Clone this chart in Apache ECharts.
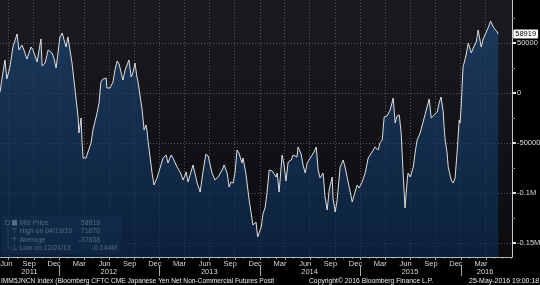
<!DOCTYPE html>
<html><head><meta charset="utf-8">
<script src="https://cdn.jsdelivr.net/npm/echarts@6/dist/echarts.min.js"></script>
<style>html,body{margin:0;padding:0;background:#000;}#c{width:540px;height:285px;}</style>
</head><body><div id="c"></div>
<script>
const dates = ['2011-06-01','2011-06-12','2011-06-19','2011-06-26','2011-07-07','2011-07-18','2011-08-02','2011-08-09','2011-08-20','2011-08-27','2011-09-07','2011-09-22','2011-09-29','2011-10-06','2011-10-14','2011-10-28','2011-11-01','2011-11-12','2011-11-23','2011-12-07','2011-12-14','2011-12-22','2011-12-29',
'2012-01-05','2012-01-13','2012-01-20','2012-01-27','2012-02-03','2012-02-07','2012-02-18','2012-02-29','2012-03-11','2012-03-14','2012-03-22','2012-03-25','2012-03-29','2012-04-09','2012-04-16','2012-04-27','2012-05-04','2012-05-19','2012-05-26','2012-06-02','2012-06-10','2012-06-21','2012-06-24','2012-07-05','2012-07-16','2012-07-23','2012-07-31','2012-08-07','2012-08-14','2012-08-21','2012-08-29','2012-09-05','2012-09-12','2012-09-20','2012-09-27','2012-10-04','2012-10-11','2012-10-15','2012-10-30','2012-11-06','2012-11-13','2012-11-17','2012-11-20','2012-12-05','2012-12-12','2012-12-23',
'2013-01-03','2013-01-14','2013-01-25','2013-02-01','2013-02-12','2013-02-19','2013-03-06','2013-03-17','2013-03-24','2013-03-28','2013-04-08','2013-04-15','2013-05-03','2013-05-18','2013-05-29','2013-06-09','2013-06-19','2013-06-27','2013-07-11','2013-07-22','2013-08-02','2013-08-17','2013-08-24','2013-09-04','2013-09-11','2013-09-18','2013-09-26','2013-10-03','2013-10-10','2013-10-17','2013-10-28','2013-11-01','2013-11-12','2013-11-23','2013-12-07','2013-12-11','2013-12-18','2013-12-24',
'2014-01-06','2014-01-13','2014-01-20','2014-01-27','2014-02-04','2014-02-15','2014-02-22','2014-03-01','2014-03-05','2014-03-12','2014-03-23','2014-03-30','2014-04-06','2014-04-14','2014-04-25','2014-05-02','2014-05-09','2014-05-16','2014-05-20','2014-05-31','2014-06-07','2014-06-15','2014-06-22','2014-06-29','2014-07-10','2014-07-17','2014-07-25','2014-08-01','2014-08-08','2014-08-19','2014-08-26','2014-09-03','2014-09-10','2014-09-21','2014-09-24','2014-10-02','2014-10-09','2014-10-20','2014-10-31','2014-11-07','2014-11-18','2014-12-03','2014-12-10','2014-12-21','2014-12-28',
'2015-01-08','2015-01-12','2015-01-19','2015-01-30','2015-02-13','2015-02-24','2015-03-07','2015-03-14','2015-03-22','2015-03-29','2015-04-09','2015-04-20','2015-05-01','2015-05-08','2015-05-15','2015-05-23','2015-05-30','2015-06-06','2015-06-13','2015-06-21','2015-06-24','2015-07-02','2015-07-13','2015-07-20','2015-07-27','2015-08-07','2015-09-01','2015-09-09','2015-09-16','2015-09-27','2015-10-08','2015-10-15','2015-10-22','2015-10-30','2015-11-02','2015-11-06','2015-11-13','2015-11-17','2015-11-28','2015-12-05','2015-12-12','2015-12-20','2015-12-27','2015-12-30',
'2016-01-03','2016-01-10','2016-01-21','2016-01-29','2016-02-09','2016-02-16','2016-02-27','2016-03-05','2016-03-09','2016-03-16','2016-03-23','2016-03-30','2016-04-10','2016-04-19','2016-04-29','2016-05-13','2016-05-17'];
const values = [1000,21000,33000,14000,26000,46000,59000,43000,48000,43000,34000,46000,43000,44000,31000,54000,27000,30000,43000,40000,35000,25000,24000,
56000,60000,59000,46000,56000,55000,30000,3000,-24000,-40000,-25000,-47000,-65000,-65000,-59000,-50000,-37000,-20000,-10000,11000,14000,15000,5000,5000,11000,23000,32000,29000,31000,13000,23000,25000,33000,16000,21000,30000,16000,11000,-17000,-37000,-32000,-39000,-47000,-80000,-92000,-85000,
-75000,-65000,-62000,-70000,-62000,-65000,-74000,-79000,-79000,-87000,-79000,-89000,-72000,-90000,-99000,-77000,-61000,-63000,-80000,-87000,-84000,-77000,-72000,-80000,-94000,-89000,-90000,-79000,-57000,-60000,-70000,-65000,-82000,-107000,-132000,-130000,-129000,-144000,
-134000,-120000,-115000,-100000,-77000,-78000,-80000,-84000,-80000,-99000,-62000,-72000,-88000,-69000,-67000,-62000,-60000,-64000,-54000,-61000,-72000,-80000,-70000,-67000,-62000,-59000,-54000,-77000,-85000,-80000,-104000,-117000,-97000,-84000,-105000,-119000,-107000,-74000,-67000,-74000,-89000,-109000,-102000,-92000,-95000,
-89000,-90000,-80000,-65000,-59000,-54000,-57000,-50000,-47000,-24000,-23000,-17000,-5000,-30000,-23000,-22000,-40000,-80000,-115000,-87000,-80000,-84000,-74000,-59000,-47000,-40000,-14000,-6000,-25000,-22000,-19000,-10000,-4000,-19000,-34000,-47000,-60000,-74000,-87000,-90000,-85000,-57000,-27000,-30000,
-14000,26000,38000,50000,40000,45000,51000,63000,65000,46000,54000,56000,65000,71870,66000,61000,58919];

const quarterGridDates = ['2011-07-01','2011-10-01','2012-01-01','2012-04-01','2012-07-01','2012-10-01','2013-01-01','2013-04-01','2013-07-01','2013-10-01','2014-01-01','2014-04-01','2014-07-01','2014-10-01','2015-01-01','2015-04-01','2015-07-01','2015-10-01','2016-01-01','2016-04-01'];
const monthLabelDates = ['2011-06-24','2011-09-15','2011-12-15','2012-03-15','2012-06-15','2012-09-15','2012-12-15','2013-03-15','2013-06-15','2013-09-15','2013-12-15','2014-03-15','2014-06-15','2014-09-15','2014-12-15','2015-03-15','2015-06-15','2015-09-15','2015-12-15','2016-03-15'];
const monthNames = ['Jan','Feb','Mar','Apr','May','Jun','Jul','Aug','Sep','Oct','Nov','Dec'];
const yearLabelDates = ['2011-09-16','2012-07-01','2013-07-01','2014-07-01','2015-07-01','2016-03-30'];
const yearSeparatorDates = ['2012-01-01','2013-01-01','2014-01-01','2015-01-01','2016-01-01'];
const yMajorTicks = [50000,0,-50000,-100000,-150000];
const yMajorLabels = ['50000','0','-50000','-0.1M','-0.15M'];
const yMinorTicks = [75000,25000,-25000,-75000,-125000];
const legendNames = ['Mid Price','High on 04/19/16','Average','Low on 12/24/13'];
const legendValues = ['58919','71870','-37838','-0.144M'];
const legendMarks = ['','\u22A4','+','\u22A5'];
const footerLeft = 'IMM5JNCN Index (Bloomberg CFTC CME Japanese Yen Net Non-Commercial Futures Posit';
const footerMid = 'Copyright\u00A9 2016 Bloomberg Finance L.P.';
const footerRight = '25-May-2016 19:00:18';
const xMin = '2011-06-01', xMax = '2016-07-06', yMin = -164000, yMax = 93000;

const ms = s => { const p = s.split('-').map(Number); return Date.UTC(p[0], p[1] - 1, p[2]); };
const monthTicks = [];
for (let y = 2011; y <= 2016; y++) for (let m = 1; m <= 12; m++) {
  const s = y + '-' + String(m).padStart(2, '0') + '-01';
  if (s > xMin && s < xMax) monthTicks.push(s);
}

const FONT = '"Liberation Sans",Arial,sans-serif';
const chart = echarts.init(document.getElementById('c'), null, {renderer: 'canvas'});
const txt = (text, x, y, opts, sx) => ({type: 'text', silent: true, x, y, scaleX: sx || 1, scaleY: 1, originX: 0, originY: 0,
  style: Object.assign({text, x: 0, y: 0, fill: '#e8e8e8', fontSize: 7.5, fontFamily: FONT, verticalAlign: 'middle', align: 'left'}, opts || {})});

const rowY = [223.2, 231.4, 239.6, 247.8];
const legendEls = [
  {type: 'rect', silent: true, shape: {x: 2, y: 216, width: 119, height: 38}, style: {fill: 'rgba(26,33,46,0.93)'}},
  {type: 'polyline', silent: true, shape: {points: [[8, 224], [8, 248], [11, 248]]}, style: {stroke: '#9a9a9a', lineWidth: 1, lineDash: [1, 1], fill: null}},
  {type: 'rect', silent: true, shape: {x: 5.5, y: 220.5, width: 4, height: 4}, style: {stroke: '#aaa', fill: 'rgba(0,0,0,0)', lineWidth: 1}},
  {type: 'rect', silent: true, shape: {x: 12, y: 220, width: 5, height: 5.5}, style: {fill: '#ffffff'}}
];
legendNames.forEach((n, i) => {
  if (legendMarks[i]) legendEls.push(txt(legendMarks[i], 14.5, rowY[i], {align: 'center', fontFamily: 'DejaVu Sans', fontSize: 7}));
  legendEls.push(txt(n, 19.5, rowY[i], null, 0.92));
  legendEls.push(txt(legendValues[i], i === 3 ? 117 : 100, rowY[i], {align: 'right'}, 0.92));
});
const textEls = [
  txt(footerLeft, 1, 281, null, 0.885),
  txt(footerMid, 309, 281, null, 0.9),
  txt(footerRight, 469, 281, null, 0.93)
];

const xCommon = {type: 'value', min: ms(xMin), max: ms(xMax), position: 'bottom', scale: true};
const option = {
  animation: false,
  backgroundColor: '#000',
  grid: {left: 0, right: 28, top: 0, bottom: 28, show: true, borderWidth: 0,
    backgroundColor: new echarts.graphic.LinearGradient(0, 0, 0, 1, [{offset: 0, color: '#1a1a20'}, {offset: 1, color: '#0c0c0f'}]),
    containLabel: false, outerBoundsMode: 'none'},
  xAxis: [
    Object.assign({}, xCommon, {
      axisLine: {show: true, onZero: false, lineStyle: {color: '#b5b5b5', width: 1}},
      axisTick: {show: false, customValues: quarterGridDates.map(ms)},
      splitLine: {show: true, lineStyle: {color: '#55575c', type: [1, 2], width: 1}},
      axisLabel: {show: true, customValues: monthLabelDates.map(ms), margin: 3, color: '#d6d6d6', fontSize: 7.5, fontFamily: FONT,
        formatter: v => monthNames[new Date(v).getUTCMonth()]}}),
    Object.assign({}, xCommon, {offset: 8,
      axisLine: {show: false, onZero: false},
      axisTick: {show: false},
      splitLine: {show: false},
      axisLabel: {show: true, customValues: yearLabelDates.map(ms), margin: 3, color: '#d6d6d6', fontSize: 7.5, fontFamily: FONT,
        formatter: v => String(new Date(v).getUTCFullYear())}})
  ],
  yAxis: [
    {type: 'value', position: 'right', min: yMin, max: yMax, splitNumber: 5,
      axisLine: {show: true, onZero: false, lineStyle: {color: '#c8c8c8', width: 1}},
      axisTick: {show: true, customValues: yMajorTicks, length: 4, lineStyle: {color: '#e0e0e0', width: 2}},
      splitLine: {show: true, lineStyle: {color: '#55575c', type: [1, 2], width: 1}},
      axisLabel: {show: true, customValues: yMajorTicks, margin: 5, color: '#dcdcdc', fontSize: 7.5, fontFamily: FONT,
        formatter: v => { const i = yMajorTicks.indexOf(v); return i >= 0 ? yMajorLabels[i] : String(v); }}},
    {type: 'value', position: 'right', min: yMin, max: yMax,
      axisLine: {show: false, onZero: false}, splitLine: {show: false}, axisLabel: {show: false},
      axisTick: {show: true, customValues: yMinorTicks, length: 3, lineStyle: {color: '#7a7a7a'}}}
  ],
  series: [{
    type: 'line', xAxisIndex: 0, yAxisIndex: 0,
    data: dates.map((d, i) => [ms(d), values[i]]),
    showSymbol: false, symbol: 'none', smooth: false,
    lineStyle: {color: '#dedede', width: 1},
    areaStyle: {origin: 'start', color: new echarts.graphic.LinearGradient(0, 0, 0, 1, [{offset: 0, color: '#1c4573'}, {offset: 1, color: '#0b2a4d'}])},
    endLabel: {show: true, distance: 15, formatter: p => String(p.value[1]), backgroundColor: '#ffffff', color: '#000', fontSize: 7.5, fontFamily: FONT, padding: [1, 2, 0, 2], borderRadius: 1}
  }],
  graphic: [...legendEls, ...textEls]
};
chart.setOption(option);

// Axis tick marks and year separators placed through the chart's own x scale
const axisY = Math.round(chart.convertToPixel({yAxisIndex: 0}, yMin));
const px = d => Math.round(chart.convertToPixel({xAxisIndex: 0}, ms(d))) + 0.5;
const tickEls = [];
monthTicks.forEach(d => {
  const q = quarterGridDates.indexOf(d) >= 0;
  tickEls.push({type: 'line', silent: true, shape: {x1: px(d), y1: axisY, x2: px(d), y2: axisY + (q ? 3 : 2)}, style: {stroke: q ? '#a0a0a0' : '#707070', lineWidth: 1}});
});
yearSeparatorDates.forEach(d => {
  tickEls.push({type: 'line', silent: true, shape: {x1: px(d), y1: axisY + 9, x2: px(d), y2: axisY + 19}, style: {stroke: '#a8a8a8', lineWidth: 1}});
});
chart.setOption({graphic: [...legendEls, ...textEls, ...tickEls]}, {replaceMerge: ['graphic']});
</script></body></html>
